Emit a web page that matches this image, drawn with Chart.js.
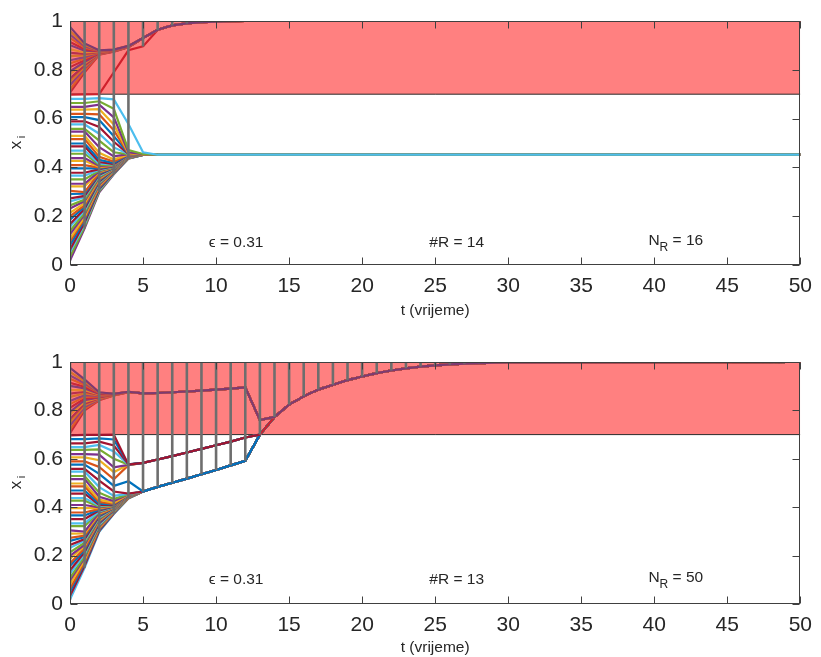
<!DOCTYPE html>
<html>
<head>
<meta charset="utf-8">
<script src="https://cdn.jsdelivr.net/npm/chart.js@4.4.1/dist/chart.umd.min.js"></script>
<style>
    body { margin: 0; background: #fff; }
    canvas { position: absolute; left: 0; }
    #topChart { top: 0; }
    #bottomChart { top: 330px; }
</style>
</head>
<body>
<canvas id="topChart" width="821" height="320"></canvas>
<canvas id="bottomChart" width="821" height="327"></canvas>
<script>
// Opinion trajectories x_i(t)

const epsilon = 0.31;
const topRCount = 14, topNR = 16;
const botRCount = 13, botNR = 50;
const zoneBottom = 0.7, zoneTop = 1;

// agents starting below the red zone (shared start in both panels)
const initLow = [0.018,0.034,0.052,0.063,0.081,0.097,0.108,0.126,0.139,0.157,
                 0.168,0.186,0.199,0.214,0.232,0.244,0.261,0.273,0.291,0.304,
                 0.322,0.333,0.351,0.366,0.378,0.396,0.409,0.427,0.438,0.456,
                 0.469,0.486,0.498,0.516,0.529,0.547,0.558,0.576,0.589,0.606,
                 0.619,0.637,0.648,0.664,0.681];
const lowT1 = [0.150,0.158,0.167,0.174,0.183,0.191,0.198,0.207,0.214,0.223,
               0.230,0.239,0.245,0.253,0.262,0.268,0.277,0.283,0.292,0.299,
               0.322,0.333,0.351,0.366,0.378,0.396,0.409,0.427,0.438,0.456,
               0.469,0.486,0.498,0.516,0.529,0.547,0.558,0.576,0.589,0.606,
               0.619,0.637,0.648,0.664,0.681];
const lowT2 = [0.298,0.302,0.307,0.311,0.316,0.320,0.325,0.329,0.334,0.338,
               0.342,0.346,0.350,0.354,0.358,0.362,0.366,0.370,0.374,0.378,
               0.381,0.384,0.387,0.390,0.393,0.396,0.399,0.402,0.406,0.410,
               0.415,0.422,0.431,0.443,0.460,0.483,0.510,0.538,0.566,0.594,
               0.617,0.639,0.657,0.671,0.684];

// top panel, lower group
const topLowT3 = [0.372,0.374,0.376,0.378,0.380,0.382,0.384,0.386,0.388,0.390,
                  0.391,0.392,0.393,0.394,0.395,0.396,0.397,0.398,0.399,0.400,
                  0.401,0.402,0.403,0.404,0.405,0.406,0.407,0.408,0.409,0.410,
                  0.412,0.414,0.418,0.424,0.432,0.445,0.462,0.482,0.505,0.528,
                  0.552,0.576,0.605,0.640,0.679];
const topLowT4 = [0.436,0.437,0.437,0.438,0.438,0.439,0.439,0.440,0.440,0.441,
                  0.441,0.442,0.442,0.443,0.443,0.444,0.444,0.445,0.445,0.446,
                  0.446,0.447,0.447,0.448,0.448,0.449,0.449,0.450,0.450,0.451,
                  0.451,0.452,0.452,0.453,0.453,0.454,0.454,0.455,0.455,0.456,
                  0.457,0.458,0.462,0.471,0.578];
const topLowT5 = [0.451,0.451,0.451,0.451,0.451,0.452,0.452,0.452,0.452,0.452,
                  0.452,0.452,0.452,0.452,0.452,0.452,0.452,0.452,0.452,0.452,
                  0.452,0.452,0.452,0.452,0.452,0.452,0.452,0.452,0.452,0.452,
                  0.452,0.452,0.452,0.452,0.452,0.453,0.453,0.453,0.453,0.453,
                  0.453,0.453,0.454,0.455,0.462];
const topConsensus = 0.452;

// agents starting inside the red zone
const initUp = [0.706,0.719,0.737,0.751,0.764,0.782,0.794,0.811,0.826,0.839,
                0.856,0.869,0.884,0.901,0.914,0.931,0.944,0.959,0.976];
const topUpT1 = [0.790,0.797,0.805,0.812,0.818,0.826,0.832,0.839,0.846,0.852,
                 0.859,0.865,0.871,0.878,0.884,0.890,0.896,0.902,0.908];
const topUpT2 = [0.862,0.863,0.864,0.865,0.866,0.867,0.868,0.869,0.870,0.871,
                 0.872,0.873,0.874,0.875,0.876,0.877,0.878,0.879,0.880];
const topUpT3 = [0.874,0.875,0.875,0.876,0.876,0.877,0.877,0.878,0.878,0.879,
                 0.879,0.880,0.880,0.881,0.881,0.882,0.882,0.883,0.883];
const topUpT4 = [0.892,0.892,0.893,0.893,0.893,0.894,0.894,0.894,0.895,0.895,
                 0.895,0.896,0.896,0.896,0.897,0.897,0.897,0.898,0.898];
const topTail = [0.930,0.964,0.982,0.990,0.995,0.997,0.999,1.000];   // t = 5..12
const topRed = [0.698,0.699,0.700,0.790,0.880,0.896,0.963];          // t = 0..6
const topSpanLow = [0.018,0.150,0.298,0.372,0.436,0.896,0.963,0.982,0.990,0.995];

// bottom panel
const botLowT3 = [0.372,0.374,0.376,0.378,0.380,0.382,0.384,0.386,0.388,0.390,
                  0.391,0.392,0.393,0.394,0.395,0.396,0.397,0.398,0.399,0.400,
                  0.401,0.402,0.403,0.404,0.405,0.406,0.407,0.408,0.409,0.410,
                  0.412,0.414,0.418,0.425,0.434,0.447,0.465,0.488,0.515,0.545,
                  0.565,0.600,0.630,0.655,0.680];
const botLowT4 = [0.436,0.437,0.437,0.438,0.438,0.439,0.439,0.440,0.440,0.441,
                  0.441,0.442,0.442,0.443,0.443,0.444,0.444,0.445,0.445,0.446,
                  0.446,0.447,0.447,0.448,0.448,0.449,0.449,0.450,0.450,0.451,
                  0.451,0.452,0.452,0.453,0.454,0.455,0.456,0.507,0.574,0.575,
                  0.575,0.576,0.576,0.577,0.577];
const botRed = [0.697,0.699,0.699,0.700,0.576];                       // t = 0..4
const blueTail = [0.465,0.484,0.501,0.518,0.536,0.554,0.573,0.592,0.700,0.773]; // t = 5..14
const redTail = [0.583,0.597,0.611,0.626,0.641,0.656,0.671,0.688,0.700,0.773];  // t = 5..14
const botUpT1 = [0.800,0.807,0.814,0.821,0.828,0.835,0.842,0.849,0.856,0.863,
                 0.870,0.877,0.884,0.891,0.898,0.905,0.912,0.920,0.928];
const botUpT2 = [0.842,0.844,0.846,0.848,0.850,0.852,0.854,0.856,0.858,0.860,
                 0.862,0.864,0.866,0.868,0.870,0.872,0.873,0.874,0.875];
const botUpT3 = [0.862,0.862,0.863,0.863,0.864,0.864,0.865,0.865,0.865,0.866,
                 0.866,0.866,0.867,0.867,0.867,0.868,0.868,0.868,0.868];
const botUpT4 = [0.875,0.875,0.875,0.876,0.876,0.876,0.876,0.876,0.876,0.876,
                 0.876,0.876,0.876,0.877,0.877,0.877,0.877,0.877,0.877];
const botUpTail = [0.870,0.872,0.875,0.878,0.882,0.886,0.890,0.895,0.760,0.773]; // t = 5..14
const botTail = [0.824,0.858,0.886,0.906,0.925,0.940,0.954,0.965,0.974,0.981,
                 0.986,0.990,0.993,0.995,0.997,0.998];                           // t = 15..30
const botSpanLow = [0.018,0.150,0.298,0.372,0.436,0.465,0.484,0.501,0.518,0.536,
                    0.554,0.573,0.592,0.700,0.773,0.824,0.858,0.886,0.906,0.925,
                    0.940,0.954,0.965,0.974,0.981,0.986,0.990,0.993,0.995,0.997,0.998];

const matlabColors = ['#0072BD', '#D95319', '#EDB120', '#7E2F8E', '#77AC30', '#4DBEEE', '#A2142F'];
// how the same lines read on top of the pink band
const zoneColors = ['#C8283A', '#E05A28', '#98407A', '#D8702A', '#B8304E', '#E8842E', '#8A3C76'];
const FONT = "'Liberation Sans', Arial, Helvetica, sans-serif";
const TEXT = '#262626';

function series(head, tail, tailStart, endValue) {
    const pts = head.map((v, t) => ({ x: t, y: v }));
    tail.forEach((v, k) => pts.push({ x: tailStart + k, y: v }));
    pts.push({ x: 50, y: endValue });
    return pts;
}

function lineSet(points, color, order, extra) {
    return Object.assign({
        data: points, borderColor: color, borderWidth: 2.2,
        pointRadius: 0, fill: false, tension: 0, order: order
    }, extra || {});
}

function spanSet(lows) {
    const pts = [];
    lows.forEach((lo, t) => pts.push({ x: t, y: lo }, { x: t, y: 1 }, { x: t, y: null }));
    return { data: pts, borderColor: '#6e6e6e', borderWidth: 2.6, pointRadius: 0, spanGaps: false, order: 5 };
}

function zoneSets() {
    return [
        { data: [{ x: 0, y: zoneTop }, { x: 50, y: zoneTop }], borderWidth: 0, borderColor: 'rgba(0,0,0,0)',
          backgroundColor: '#FF8080', fill: { value: zoneBottom }, pointRadius: 0, order: 1000 },
        { data: [{ x: 0, y: zoneBottom }, { x: 50, y: zoneBottom }], borderColor: '#2a2a2a', borderWidth: 1,
          pointRadius: 0, order: 999 },
        { data: [{ x: 0, y: 1 }, { x: 50, y: 1 }], borderColor: '#1d2b36', borderWidth: 2, pointRadius: 0, order: 4 }
    ];
}

// ---- top panel datasets
const topSets = zoneSets();
initLow.forEach((v0, i) => {
    const pts = series([v0, lowT1[i], lowT2[i], topLowT3[i], topLowT4[i], topLowT5[i]], [topConsensus], 6, topConsensus);
    topSets.push(lineSet(pts, matlabColors[(i + 3) % 7], 500 - i));
});
topSets.push(lineSet(series(topRed, topTail.slice(2), 7, 1), '#D0202C', 500 - initLow.length));
initUp.forEach((v0, i) => {
    const pts = series([v0, topUpT1[i], topUpT2[i], topUpT3[i], topUpT4[i]], topTail, 5, 1);
    const color = i === initUp.length - 1 ? '#7E3A72' : zoneColors[i % 7];
    topSets.push(lineSet(pts, color, 450 - i));
});
topSets.push(spanSet(topSpanLow));

// ---- bottom panel datasets
const botSets = zoneSets();
initLow.forEach((v0, i) => {
    const toRed = botLowT4[i] > 0.55;
    const tail = (toRed ? redTail : blueTail).concat(botTail);
    const pts = series([v0, lowT1[i], lowT2[i], botLowT3[i], botLowT4[i]], tail, 5, 1);
    botSets.push(lineSet(pts, matlabColors[(i + 5) % 7], 500 - i));
});
botSets.push(lineSet(series(botRed, redTail.concat(botTail), 5, 1), '#A2142F', 500 - initLow.length, {
    segment: { borderColor: c => (c.p0.parsed.y >= zoneBottom && c.p1.parsed.y > zoneBottom && c.p0.parsed.x > 5) ? '#D0202C' : undefined }
}));
initUp.forEach((v0, i) => {
    const pts = series([v0, botUpT1[i], botUpT2[i], botUpT3[i], botUpT4[i]], botUpTail.concat(botTail), 5, 1);
    const color = i === initUp.length - 1 ? '#7E3A72' : zoneColors[i % 7];
    botSets.push(lineSet(pts, color, 450 - i));
});
botSets.push(spanSet(botSpanLow));

// box, inward ticks, x_i label and the text notes
const framePlugin = {
    id: 'frame',
    afterDatasetsDraw(chart, args, opts) {
        const { ctx, chartArea: a, scales: { x, y } } = chart;
        ctx.save();
        ctx.strokeStyle = '#404040';
        ctx.lineWidth = 1;
        const L = Math.round(a.left) + 0.5, R = Math.round(a.right) - 0.5;
        const T = Math.round(a.top) + 0.5, B = Math.round(a.bottom) - 0.5;
        ctx.strokeRect(L, T, R - L, B - T);
        ctx.beginPath();
        x.ticks.forEach(t => {
            const px = Math.round(x.getPixelForValue(t.value)) + 0.5;
            ctx.moveTo(px, B); ctx.lineTo(px, B - 7);
            ctx.moveTo(px, T); ctx.lineTo(px, T + 7);
        });
        y.ticks.forEach(t => {
            const py = Math.round(y.getPixelForValue(t.value)) + 0.5;
            ctx.moveTo(L, py); ctx.lineTo(L + 7, py);
            ctx.moveTo(R, py); ctx.lineTo(R - 7, py);
        });
        ctx.stroke();

        // y label x_i
        ctx.fillStyle = TEXT;
        ctx.translate(16, (a.top + a.bottom) / 2);
        ctx.rotate(-Math.PI / 2);
        ctx.textBaseline = 'middle';
        ctx.textAlign = 'center';
        ctx.font = '17px ' + FONT;
        ctx.fillText('x', -2, 0);
        ctx.font = '11px ' + FONT;
        ctx.fillText('i', 6, 6);
        ctx.restore();

        ctx.save();
        ctx.fillStyle = TEXT;
        ctx.textBaseline = 'middle';
        ctx.textAlign = 'left';
        (opts.notes || []).forEach(n => {
            let px = x.getPixelForValue(n.t);
            const py = y.getPixelForValue(n.v);
            n.parts.forEach(([s, sub]) => {
                ctx.font = (sub ? '12px ' : '15.5px ') + FONT;
                ctx.fillText(s, px, sub ? py + 7 : py);
                px += ctx.measureText(s).width;
            });
        });
        ctx.restore();
    }
};

function makeOptions(padTop, xHeight, notes) {
    return {
        responsive: false,
        animation: false,
        events: [],
        layout: { padding: { left: 0, right: 13, top: padTop, bottom: 0 } },
        plugins: { legend: { display: false }, tooltip: { enabled: false }, frame: { notes: notes } },
        scales: {
            x: {
                type: 'linear', min: 0, max: 50,
                grid: { display: false, drawTicks: false },
                border: { display: false },
                ticks: { stepSize: 5, padding: 9, color: TEXT, font: { family: FONT, size: 21 } },
                title: { display: true, text: 't (vrijeme)', color: TEXT, font: { family: FONT, size: 15.5 },
                         padding: { top: 0, bottom: 0 } },
                afterFit: s => { s.height = xHeight; }
            },
            y: {
                type: 'linear', min: 0, max: 1,
                grid: { display: false, drawTicks: false },
                border: { display: false },
                ticks: { stepSize: 0.2, padding: 7, color: TEXT, font: { family: FONT, size: 21 },
                         callback: v => String(Number(v.toFixed(2))) },
                afterFit: s => { s.width = 70; }
            }
        }
    };
}

const topNotes = [
    { t: 9.5, v: 0.09, parts: [['\u03F5 = ' + epsilon]] },
    { t: 24.6, v: 0.09, parts: [['#R = ' + topRCount]] },
    { t: 39.6, v: 0.10, parts: [['N'], ['R', true], [' = ' + topNR]] }
];
const botNotes = [
    { t: 9.5, v: 0.10, parts: [['\u03F5 = ' + epsilon]] },
    { t: 24.6, v: 0.10, parts: [['#R = ' + botRCount]] },
    { t: 39.6, v: 0.11, parts: [['N'], ['R', true], [' = ' + botNR]] }
];

new Chart(document.getElementById('topChart'), {
    type: 'line',
    data: { datasets: topSets },
    options: makeOptions(21, 55, topNotes),
    plugins: [framePlugin]
});

new Chart(document.getElementById('bottomChart'), {
    type: 'line',
    data: { datasets: botSets },
    options: makeOptions(32, 53, botNotes),
    plugins: [framePlugin]
});
</script>
</body>
</html>
